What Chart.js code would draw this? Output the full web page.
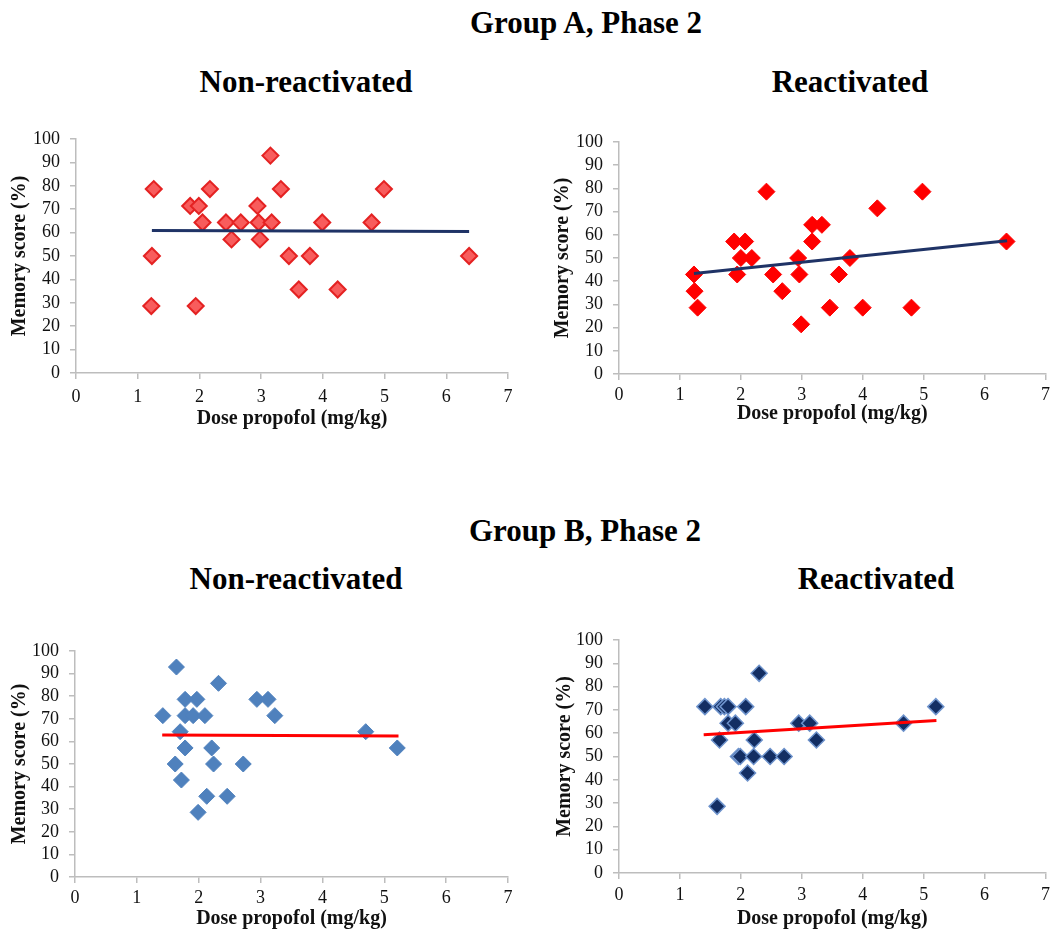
<!DOCTYPE html>
<html>
<head>
<meta charset="utf-8">
<script src="https://cdn.jsdelivr.net/npm/chart.js@4.4.1/dist/chart.umd.min.js"></script>
<style>
  body { margin: 0; background: #fff; width: 1055px; height: 932px; overflow: hidden; position: relative; }
  .heading { position: absolute; font-family: "Liberation Serif", "Times New Roman", serif; font-weight: bold; font-size: 31px; color: #000; transform: translate(-50%, -50%); white-space: nowrap; }
  .panel { position: absolute; }
</style>
</head>
<body>
<div class="heading" style="left:586px; top:23px;">Group A, Phase 2</div>
<div class="heading" style="left:306px; top:82px;">Non-reactivated</div>
<div class="heading" style="left:850px; top:82px;">Reactivated</div>
<div class="heading" style="left:585px; top:531px;">Group B, Phase 2</div>
<div class="heading" style="left:296px; top:579px;">Non-reactivated</div>
<div class="heading" style="left:876px; top:579px;">Reactivated</div>

<div class="panel" style="left:0px; top:120px; width:530px; height:320px;"><canvas id="chartA1"></canvas></div>
<div class="panel" style="left:540px; top:120px; width:515px; height:320px;"><canvas id="chartA2"></canvas></div>
<div class="panel" style="left:0px; top:630px; width:530px; height:302px;"><canvas id="chartB1"></canvas></div>
<div class="panel" style="left:540px; top:620px; width:515px; height:312px;"><canvas id="chartB2"></canvas></div>

<script>
// Group A, Phase 2 - non-reactivated
const groupANonDose  = [1.26, 1.23, 1.22, 1.85, 1.99, 2.05, 2.17, 1.94, 2.43, 2.67, 2.52, 2.94, 2.96, 2.98, 3.15, 3.17, 3.32, 3.45, 3.61, 3.79, 3.99, 4.24, 4.79, 4.99, 6.37];
const groupANonScore = [78.6, 50.0, 28.6, 71.4, 71.4, 64.3, 78.6, 28.6, 64.3, 64.3, 57.1, 71.4, 64.3, 57.1, 92.9, 64.3, 78.6, 50.0, 35.7, 50.0, 64.3, 35.7, 64.3, 78.6, 50.0];
const groupANonTrendX = [1.23, 6.37];
const groupANonTrendY = [60.9, 60.5];

// Group A, Phase 2 - reactivated
const groupAReDose  = [1.23, 1.24, 1.29, 1.89, 1.94, 2.07, 2.00, 2.18, 2.42, 2.53, 2.68, 2.94, 2.96, 2.99, 3.17, 3.17, 3.33, 3.46, 3.61, 3.79, 4.00, 4.24, 4.80, 4.98, 6.36];
const groupAReScore = [42.9, 35.7, 28.6, 57.1, 42.9, 57.1, 50.0, 50.0, 78.6, 42.9, 35.7, 50.0, 42.9, 21.4, 57.1, 64.3, 64.3, 28.6, 42.9, 50.0, 28.6, 71.4, 28.6, 78.6, 57.1];
const groupAReTrendX = [1.23, 6.37];
const groupAReTrendY = [43.3, 57.4];

// Group B, Phase 2 - non-reactivated
const groupBNonDose  = [1.64, 1.42, 1.78, 1.78, 1.97, 1.91, 2.10, 2.32, 1.70, 1.78, 1.62, 1.72, 2.21, 2.24, 2.13, 1.99, 2.46, 2.72, 2.94, 3.12, 3.23, 4.70, 5.21];
const groupBNonScore = [92.9, 71.4, 78.6, 71.4, 78.6, 71.4, 71.4, 85.7, 64.3, 57.1, 50.0, 42.9, 57.1, 50.0, 35.7, 28.6, 35.7, 50.0, 78.6, 78.6, 71.4, 64.3, 57.1];
const groupBNonTrendX = [1.41, 5.23];
const groupBNonTrendY = [62.8, 62.4];

// Group B, Phase 2 - reactivated
const groupBReDose  = [1.41, 1.67, 1.73, 1.79, 2.08, 5.20, 2.30, 1.79, 1.91, 2.95, 3.13, 4.67, 1.65, 2.22, 3.24, 1.96, 1.99, 2.21, 2.48, 2.71, 2.11, 1.61];
const groupBReScore = [71.4, 71.4, 71.4, 71.4, 71.4, 71.4, 85.7, 64.3, 64.3, 64.3, 64.3, 64.3, 57.1, 57.1, 57.1, 50.0, 50.0, 50.0, 50.0, 50.0, 42.9, 28.6];
const groupBReTrendX = [1.39, 5.21];
const groupBReTrendY = [59.3, 65.4];

const serif = '"Liberation Serif", "Times New Roman", serif';
const axisGrey = '#BDBDBD';

function toPoints(xs, ys) {
  return xs.map((x, i) => ({ x: x, y: ys[i] }));
}

function makeScatter(id, cfg) {
  const ctx = document.getElementById(id).getContext('2d');
  return new Chart(ctx, {
    type: 'scatter',
    data: {
      datasets: [
        {
          label: 'Trend',
          data: toPoints(cfg.trendX, cfg.trendY),
          showLine: true,
          borderColor: cfg.lineColor,
          borderWidth: 3,
          pointRadius: 0,
          fill: false,
          order: 0
        },
        {
          label: 'Memory score',
          data: toPoints(cfg.dose, cfg.score),
          pointStyle: 'rectRot',
          pointRadius: cfg.radius,
          pointBackgroundColor: cfg.fill,
          pointBorderColor: cfg.border,
          pointBorderWidth: cfg.borderWidth,
          order: 1
        }
      ]
    },
    options: {
      responsive: true,
      maintainAspectRatio: false,
      animation: false,
      layout: { padding: cfg.padding },
      plugins: {
        legend: { display: false },
        tooltip: { enabled: false }
      },
      scales: {
        x: {
          type: 'linear',
          min: 0,
          max: 7,
          border: { color: axisGrey, width: 1.5 },
          grid: { drawOnChartArea: false, drawTicks: true, tickLength: 6, color: axisGrey, lineWidth: 1.5 },
          ticks: { stepSize: 1, autoSkip: false, maxRotation: 0, padding: cfg.xTickPad, color: '#111', font: { family: serif, size: 18 } },
          title: { display: true, text: 'Dose propofol (mg/kg)', color: '#111', padding: 0, font: { family: serif, size: 20, weight: 'bold' } },
          afterFit: (scale) => {
            scale.height = cfg.xHeight;
            scale.paddingLeft = 0;
            scale.paddingRight = 0;
          }
        },
        y: {
          type: 'linear',
          min: 0,
          max: 100,
          border: { color: axisGrey, width: 1.5 },
          grid: { drawOnChartArea: false, drawTicks: true, tickLength: 6, color: axisGrey, lineWidth: 1.5 },
          ticks: { stepSize: 10, autoSkip: false, padding: 10, color: '#111', font: { family: serif, size: 18 } },
          title: { display: true, text: 'Memory score (%)', color: '#111', padding: 0, font: { family: serif, size: 20, weight: 'bold' } },
          afterFit: (scale) => {
            scale.width = cfg.yWidth;
            scale.paddingTop = 0;
            scale.paddingBottom = 0;
          }
        }
      }
    }
  });
}

makeScatter('chartA1', {
  dose: groupANonDose, score: groupANonScore,
  trendX: groupANonTrendX, trendY: groupANonTrendY,
  lineColor: '#1F3366', fill: '#F85C5C', border: '#E42222', borderWidth: 2, radius: 8,
  padding: { left: 8, top: 19, right: 22, bottom: 9 }, yWidth: 68, xHeight: 58, xTickPad: 7
});

makeScatter('chartA2', {
  dose: groupAReDose, score: groupAReScore,
  trendX: groupAReTrendX, trendY: groupAReTrendY,
  lineColor: '#1F3366', fill: '#FF0000', border: '#FF0000', borderWidth: 1, radius: 8.5,
  padding: { left: 11, top: 22, right: 3, bottom: 14 }, yWidth: 68, xHeight: 52, xTickPad: 4
});

makeScatter('chartB1', {
  dose: groupBNonDose, score: groupBNonScore,
  trendX: groupBNonTrendX, trendY: groupBNonTrendY,
  lineColor: '#FF0000', fill: '#4F81BD', border: '#4F81BD', borderWidth: 1, radius: 8,
  padding: { left: 8, top: 21, right: 22, bottom: 1 }, yWidth: 67, xHeight: 54, xTickPad: 4
});

makeScatter('chartB2', {
  dose: groupBReDose, score: groupBReScore,
  trendX: groupBReTrendX, trendY: groupBReTrendY,
  lineColor: '#FF0000', fill: '#132E63', border: '#6E93CC', borderWidth: 1.5, radius: 8,
  padding: { left: 13, top: 20, right: 2, bottom: 1 }, yWidth: 66, xHeight: 58, xTickPad: 5
});
</script>
</body>
</html>
